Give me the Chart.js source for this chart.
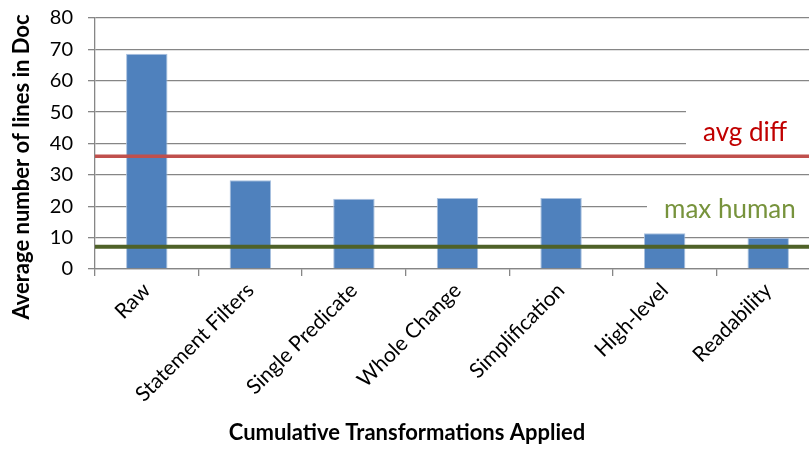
<!DOCTYPE html>
<html>
<head>
<meta charset="utf-8">
<script src="https://cdn.jsdelivr.net/npm/chart.js@4/dist/chart.umd.min.js"></script>
<style>
  html, body { margin: 0; padding: 0; background: #fff; overflow: hidden; }
  #wrap { position: relative; width: 820px; height: 460px; margin-top: -9px; }
</style>
</head>
<body>
<div id="wrap"><canvas id="c"></canvas></div>
<script>
// Transformation stages, applied cumulatively
const categories = ['Raw', 'Statement Filters', 'Single Predicate', 'Whole Change', 'Simplification', 'High-level', 'Readability'];
// Average number of lines in the generated documentation per stage
const avgLines = [68.6, 28.3, 22.4, 22.6, 22.6, 11.4, 10.0];
// Reference levels
const avgDiff = 35.9;
const maxHuman = 7.1;
// Value axis ticks
const yTicks = [0, 10, 20, 30, 40, 50, 60, 70, 80];

const FONT = 'Lato, "Open Sans", sans-serif';
const SHIFT = 9; // canvas is pulled up by this much in the page

// Captions for the reference lines (on white boxes that hide the grid) and axis titles
const captionPlugin = {
  id: 'captions',
  beforeDatasetsDraw(chart) {
    const ctx = chart.ctx;
    ctx.save();
    ctx.translate(0, SHIFT);
    ctx.fillStyle = '#ffffff';
    ctx.fillRect(686, 100, 140, 50);
    ctx.fillRect(647, 190, 180, 38);
    ctx.restore();
  },
  afterDatasetsDraw(chart) {
    const ctx = chart.ctx;
    ctx.save();
    ctx.translate(0, SHIFT);
    ctx.textBaseline = 'middle';
    ctx.textAlign = 'left';
    ctx.font = '26px ' + FONT;
    ctx.fillStyle = '#C00000';
    ctx.fillText('avg diff', 703, 133);
    ctx.fillStyle = '#77933C';
    ctx.fillText('max human', 664, 210);

    ctx.fillStyle = '#000000';
    ctx.textAlign = 'center';
    ctx.font = 'bold 22px ' + FONT;
    ctx.fillText('Cumulative Transformations Applied', 407, 433);

    ctx.translate(22, 167);
    ctx.rotate(-Math.PI / 2);
    ctx.font = 'bold 22px ' + FONT;
    ctx.fillText('Average number of lines in Doc', 0, 0);
    ctx.restore();
  }
};

new Chart(document.getElementById('c'), {
  type: 'bar',
  data: {
    labels: categories,
    datasets: [
      {
        type: 'line',
        label: 'avg diff',
        xAxisID: 'xRef',
        data: [{ x: 0, y: avgDiff }, { x: 1, y: avgDiff }],
        borderColor: '#C0504D',
        borderWidth: 3.5,
        pointRadius: 0,
        order: 1
      },
      {
        type: 'line',
        label: 'max human',
        xAxisID: 'xRef',
        data: [{ x: 0, y: maxHuman }, { x: 1, y: maxHuman }],
        borderColor: '#4F6228',
        borderWidth: 4,
        pointRadius: 0,
        order: 1
      },
      {
        type: 'bar',
        label: 'Average number of lines in Doc',
        xAxisID: 'x',
        data: avgLines,
        backgroundColor: '#4F81BD',
        borderColor: '#A9C1DF',
        borderWidth: 1,
        grouped: false,
        categoryPercentage: 1,
        barPercentage: 0.4,
        order: 2
      }
    ]
  },
  options: {
    responsive: true,
    maintainAspectRatio: false,
    animation: false,
    events: [],
    layout: { padding: { left: 0, right: 0, top: 9, bottom: 0 } },
    plugins: {
      legend: { display: false },
      tooltip: { enabled: false }
    },
    scales: {
      x: {
        type: 'category',
        offset: true,
        grid: {
          offset: true,
          drawOnChartArea: false,
          drawTicks: true,
          tickLength: 7,
          color: '#868686',
          lineWidth: 1.3
        },
        border: { color: '#868686', width: 1.3 },
        ticks: {
          font: { family: FONT, size: 21 },
          color: '#000000',
          minRotation: 45,
          maxRotation: 45,
          autoSkip: false,
          padding: 2
        },
        afterFit(scale) { scale.height = 182; }
      },
      xRef: {
        type: 'linear',
        min: 0,
        max: 1,
        offset: false,
        display: false
      },
      y: {
        min: 0,
        max: 80,
        afterBuildTicks(scale) { scale.ticks = yTicks.map(v => ({ value: v })); },
        grid: {
          color: '#868686',
          lineWidth: 1.3,
          tickLength: 7
        },
        border: { color: '#868686', width: 1.3 },
        ticks: {
          font: { family: FONT, size: 20 },
          color: '#000000',
          padding: 15
        },
        afterFit(scale) { scale.width = 95; }
      }
    }
  },
  plugins: [captionPlugin]
});
</script>
</body>
</html>
